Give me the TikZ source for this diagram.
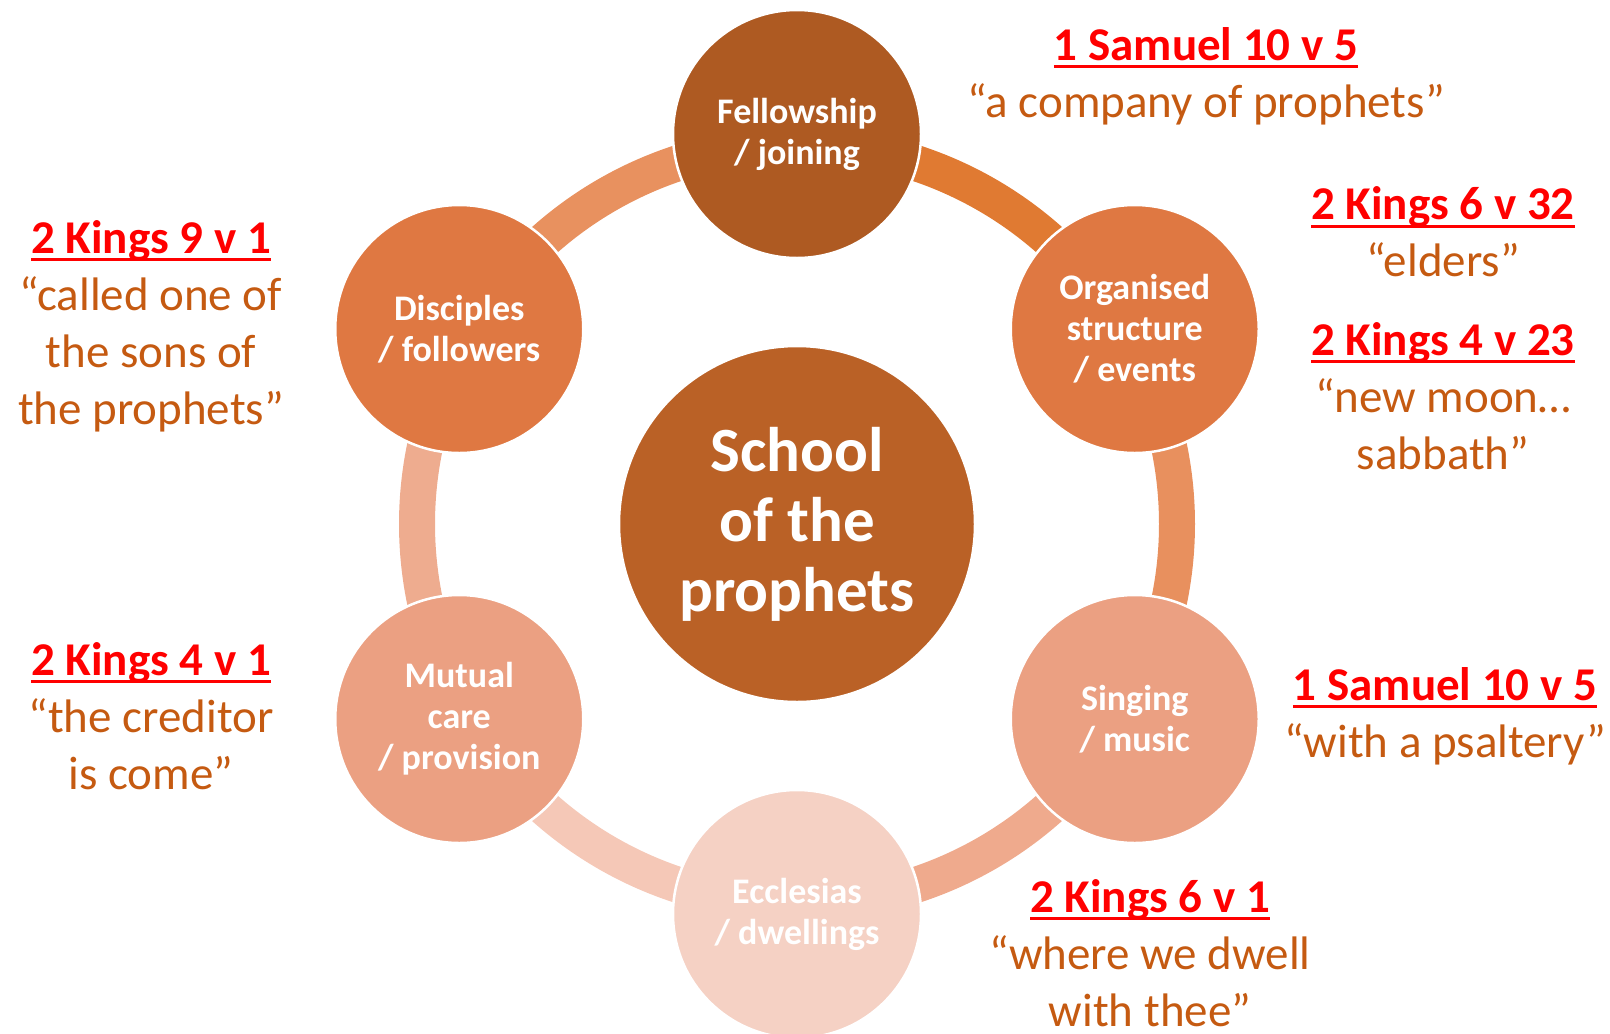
\documentclass[tikz,border=0pt]{standalone}
\usepackage{fontspec}
\setmainfont{Carlito}

\definecolor{hubcol}{HTML}{BA6126}
\definecolor{felcol}{HTML}{AE5A22}
\definecolor{orgcol}{HTML}{DF7842}
\definecolor{singcol}{HTML}{EBA082}
\definecolor{ecccol}{HTML}{F5D1C4}
\definecolor{quotecol}{HTML}{C55A11}
\definecolor{arcA}{HTML}{E07A32}
\definecolor{arcB}{HTML}{E8905E}
\definecolor{arcC}{HTML}{EFAA8D}
\definecolor{arcD}{HTML}{F5C8B7}
\definecolor{arcE}{HTML}{EEAC8F}
\definecolor{arcF}{HTML}{E8915F}

% red underlined verse reference
\newcommand{\verseref}[1]{{\color{red}\bfseries\setbox0\hbox{#1}%
  \rlap{\rule[-8pt]{\wd0}{3pt}}\box0}}

\tikzset{
  hub/.style={circle, fill=hubcol, draw=white, line width=2.5pt, minimum size=356pt,
    inner sep=0pt, align=center, text=white, font=\bfseries\fontsize{63}{70}\selectfont},
  topic/.style={circle, draw=white, line width=2.5pt, minimum size=248pt,
    inner sep=0pt, align=center, text=white, font=\bfseries\fontsize{36}{41}\selectfont},
  ring/.style={line width=36pt},
  verse/.style={align=center, text=quotecol, font=\fontsize{47}{57}\selectfont},
}

\begin{document}
\begin{tikzpicture}[x=1pt, y=-1pt]
  \useasboundingbox (0,0) rectangle (1610,1034);
  \node[hub] (sch) at (797,524) {School\\of the\\prophets};
  % ring behind the outer circles
  \foreach \a/\col in {-90/arcA, -30/arcB, 30/arcC, 90/arcD, 150/arcE, 210/arcF} {
    \draw[ring, draw=\col] ([shift={(\a:380)}]sch.center)
      arc[start angle=\a, end angle=\a+60, radius=380];
  }
  \node[topic, fill=felcol] (fel) at ([shift={(-90:390)}]sch.center) {Fellowship\\/ joining};
  \node[topic, fill=orgcol] (org) at ([shift={(-30:390)}]sch.center) {Organised\\structure\\/ events};
  \node[topic, fill=singcol] (sing) at ([shift={(30:390)}]sch.center) {Singing\\/ music};
  \node[topic, fill=ecccol] (ecc) at ([shift={(90:390)}]sch.center) {Ecclesias\\/ dwellings};
  \node[topic, fill=singcol] (mut) at ([shift={(150:390)}]sch.center) {Mutual\\care\\/ provision};
  \node[topic, fill=orgcol] (dis) at ([shift={(210:390)}]sch.center) {Disciples\\/ followers};
  % verses
  \node[verse] (v1) at (1206,76) {\verseref{1 Samuel 10 v 5}\\“a company of prophets”};
  \node[verse] (v2) at (1443,232) {\verseref{2 Kings 6 v 32}\\“elders”};
  \node[verse] (v3) at (1443,396) {\verseref{2 Kings 4 v 23}\\“new moon…\\sabbath”};
  \node[verse] (v4) at (151,326) {\verseref{2 Kings 9 v 1}\\“called one of\\the sons of\\the prophets”};
  \node[verse] (v5) at (151,716) {\verseref{2 Kings 4 v 1}\\“the creditor\\is come”};
  \node[verse] (v6) at (1445,716) {\verseref{1 Samuel 10 v 5}\\“with a psaltery”};
  \node[verse] (v7) at (1150,953) {\verseref{2 Kings 6 v 1}\\“where we dwell\\with thee”};
\end{tikzpicture}
\end{document}
